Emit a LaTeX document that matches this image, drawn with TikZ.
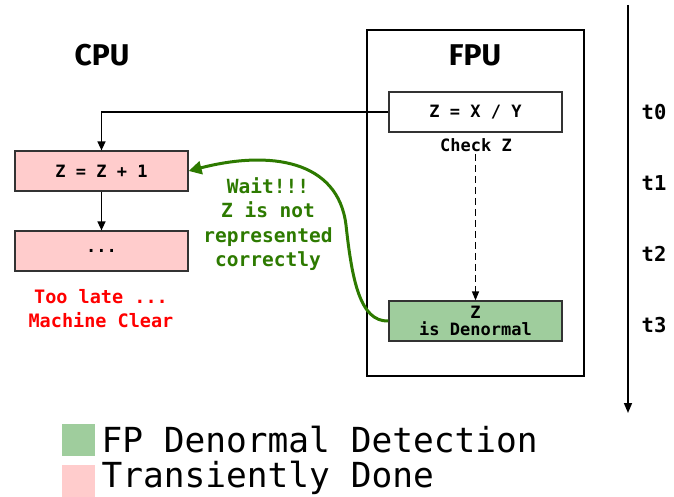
\documentclass[tikz,border=0pt]{standalone}
\usepackage{fontspec}
\setmainfont{DejaVu Sans Mono}
\setmonofont{DejaVu Sans Mono}
\setsansfont{Fira Sans}
\usetikzlibrary{arrows.meta, calc}
\definecolor{pinkfill}{HTML}{FFCCCC}
\definecolor{greenfill}{HTML}{9FCD9D}
\definecolor{waitgreen}{HTML}{2D7A00}
\newcommand{\fsz}[2]{\fontsize{#1}{#2}\selectfont}

\begin{document}
\begin{tikzpicture}[x=1pt, y=-1pt,
    box/.style={draw=black!80, line width=1.2pt, minimum width=173pt, minimum height=40pt,
                inner sep=0pt, font=\ttfamily\bfseries\fsz{17}{17}, align=center},
    title/.style={font=\sffamily\bfseries\fsz{30}{36}},
    tlabel/.style={font=\ttfamily\bfseries\fsz{20.5}{24}},
    legend/.style={font=\ttfamily\fsz{34.5}{40}, anchor=west}]
    \useasboundingbox (0,0) rectangle (674,497);

    % FPU frame
    \draw[line width=1.8pt] (367,30) rectangle (584,376);
    \node[title] (fpu) at (475,55) {FPU};
    \node[title] (cpu) at (102,55) {CPU};

    % FPU boxes
    \node[box, fill=white] (div) at (475.5,112) {Z = X / Y};
    \node[font=\ttfamily\bfseries\fsz{17}{20}, inner sep=2pt] (check) at (476,145) {Check Z};
    \node[box, fill=greenfill] (denorm) at (475.5,321) {Z\\is Denormal};
    \draw[-{Triangle[length=9pt,width=7pt]}, dash pattern=on 7pt off 4pt, line width=1.4pt]
        (check.south -| denorm.north) -- (denorm.north);

    % CPU boxes
    \node[box, fill=pinkfill] (add) at (101.5,171) {Z = Z + 1};
    \node[box, fill=pinkfill] (dots) at (101.5,251) {...};
    \draw[-{Triangle[length=9pt,width=8pt]}, line width=1.4pt] (add.south) -- (dots.north);
    \draw[-{Triangle[length=9pt,width=8pt]}, line width=1.4pt] (div.west) -| (add.north);

    % Too late
    \node[text=red, font=\ttfamily\bfseries\fsz{18.5}{24}, align=center] (late) at (101,309)
        {Too late ...\\Machine Clear};

    % Wait annotation
    \node[text=waitgreen, font=\ttfamily\bfseries\fsz{19.5}{24.5}, align=center] (wait) at (268,224)
        {Wait!!!\\Z is not\\represented\\correctly};
    \draw[waitgreen, line width=3pt, -{Triangle[length=13pt,width=13pt]}]
        (denorm.west) .. controls (360,322) and (352,280) .. (346,225)
        .. controls (338,160) and (270,150) .. (add.east);

    % Time axis
    \coordinate (ttop) at (628,5);
    \coordinate (tbot) at (628,413);
    \draw[line width=1.6pt, -{Triangle[length=10pt,width=8pt]}] (ttop) -- (tbot);
    \foreach \t/\y in {0/112, 1/183, 2/254, 3/325}
        \node[tlabel] (t\t) at (654,\y) {t\t};

    % Legend
    \fill[greenfill] (62,424) rectangle (95,456);
    \node[legend] (lgreen) at (98,440) {FP Denormal Detection};
    \fill[pinkfill] (62,465) rectangle (95,497);
    \node[legend] (lpink) at (98,478) {Transiently Done};
\end{tikzpicture}
\end{document}
